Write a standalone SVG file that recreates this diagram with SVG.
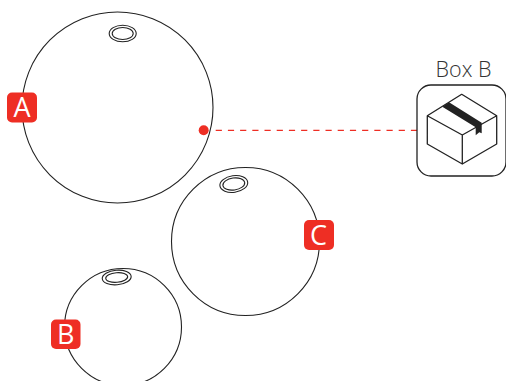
<svg xmlns="http://www.w3.org/2000/svg" width="506" height="381" viewBox="0 0 506 381">
<style>
.ball{fill:#fff;stroke:#222;stroke-width:1.100}
.hole{fill:none;stroke:#222;stroke-width:1.100}
.badge{fill:#ee2e24}
.bt{font-family:"Open Sans",sans-serif;font-size:27px;font-weight:500;fill:#fff;text-anchor:middle}
.ln{fill:none;stroke:#222;stroke-width:1.300;stroke-linejoin:round}
</style>
<rect width="506" height="381" fill="#fff"/>
<g id="connectors">
<line x1="215.700" y1="130.300" x2="417" y2="130.300" stroke="#ee2e24" stroke-width="1.300" stroke-dasharray="6.200 6"/>
</g>
<g id="node-a">
<circle class="ball" cx="117.500" cy="107.500" r="95.500"/>
<ellipse class="hole" cx="122.700" cy="33.500" rx="13.500" ry="8.300"/>
<ellipse class="hole" cx="122.700" cy="33.500" rx="10.500" ry="6"/>
<circle cx="203.700" cy="130.300" r="5" fill="#ee2e24"/>
<rect class="badge" x="7" y="92.500" width="30" height="30" rx="5"/>
<text class="bt" x="22" y="117">A</text>
</g>
<g id="node-c">
<circle class="ball" cx="245.500" cy="241.500" r="74"/>
<ellipse class="hole" cx="233.800" cy="184" rx="14" ry="8.300" transform="rotate(-8 233.800 184)"/>
<ellipse class="hole" cx="233.800" cy="184" rx="11" ry="6" transform="rotate(-8 233.800 184)"/>
<rect class="badge" x="304" y="220" width="30" height="30" rx="5"/>
<text class="bt" x="318.500" y="244.500">C</text>
</g>
<g id="node-b">
<circle class="ball" cx="123" cy="327" r="58.500"/>
<ellipse class="hole" cx="116.700" cy="277.500" rx="14.500" ry="7.300" transform="rotate(-5 116.700 277.500)"/>
<ellipse class="hole" cx="116.700" cy="277.500" rx="11" ry="4.800" transform="rotate(-5 116.700 277.500)"/>
<rect class="badge" x="51" y="319.500" width="29.500" height="29.500" rx="5"/>
<text class="bt" x="65.800" y="344">B</text>
</g>
<g id="node-box">
<text x="463.500" y="77" font-family="'Open Sans',sans-serif" font-weight="300" font-size="21.500" fill="#333" text-anchor="middle">Box B</text>
<rect x="417" y="85" width="89" height="91" rx="14" fill="#fff" stroke="#222" stroke-width="1.300"/>
<path class="ln" d="M461.700 94.300L427.300 115.700L462.300 135L496.700 115.700ZM427.300 115.700V144L462.300 164V135M496.700 115.700V144L462.300 164"/>
<path d="M442.300 106.700L449 102.300L481.700 122.700V133.300L479.300 132.300L475.700 135.300V127.300Z" fill="#222"/>
</g>
</svg>
